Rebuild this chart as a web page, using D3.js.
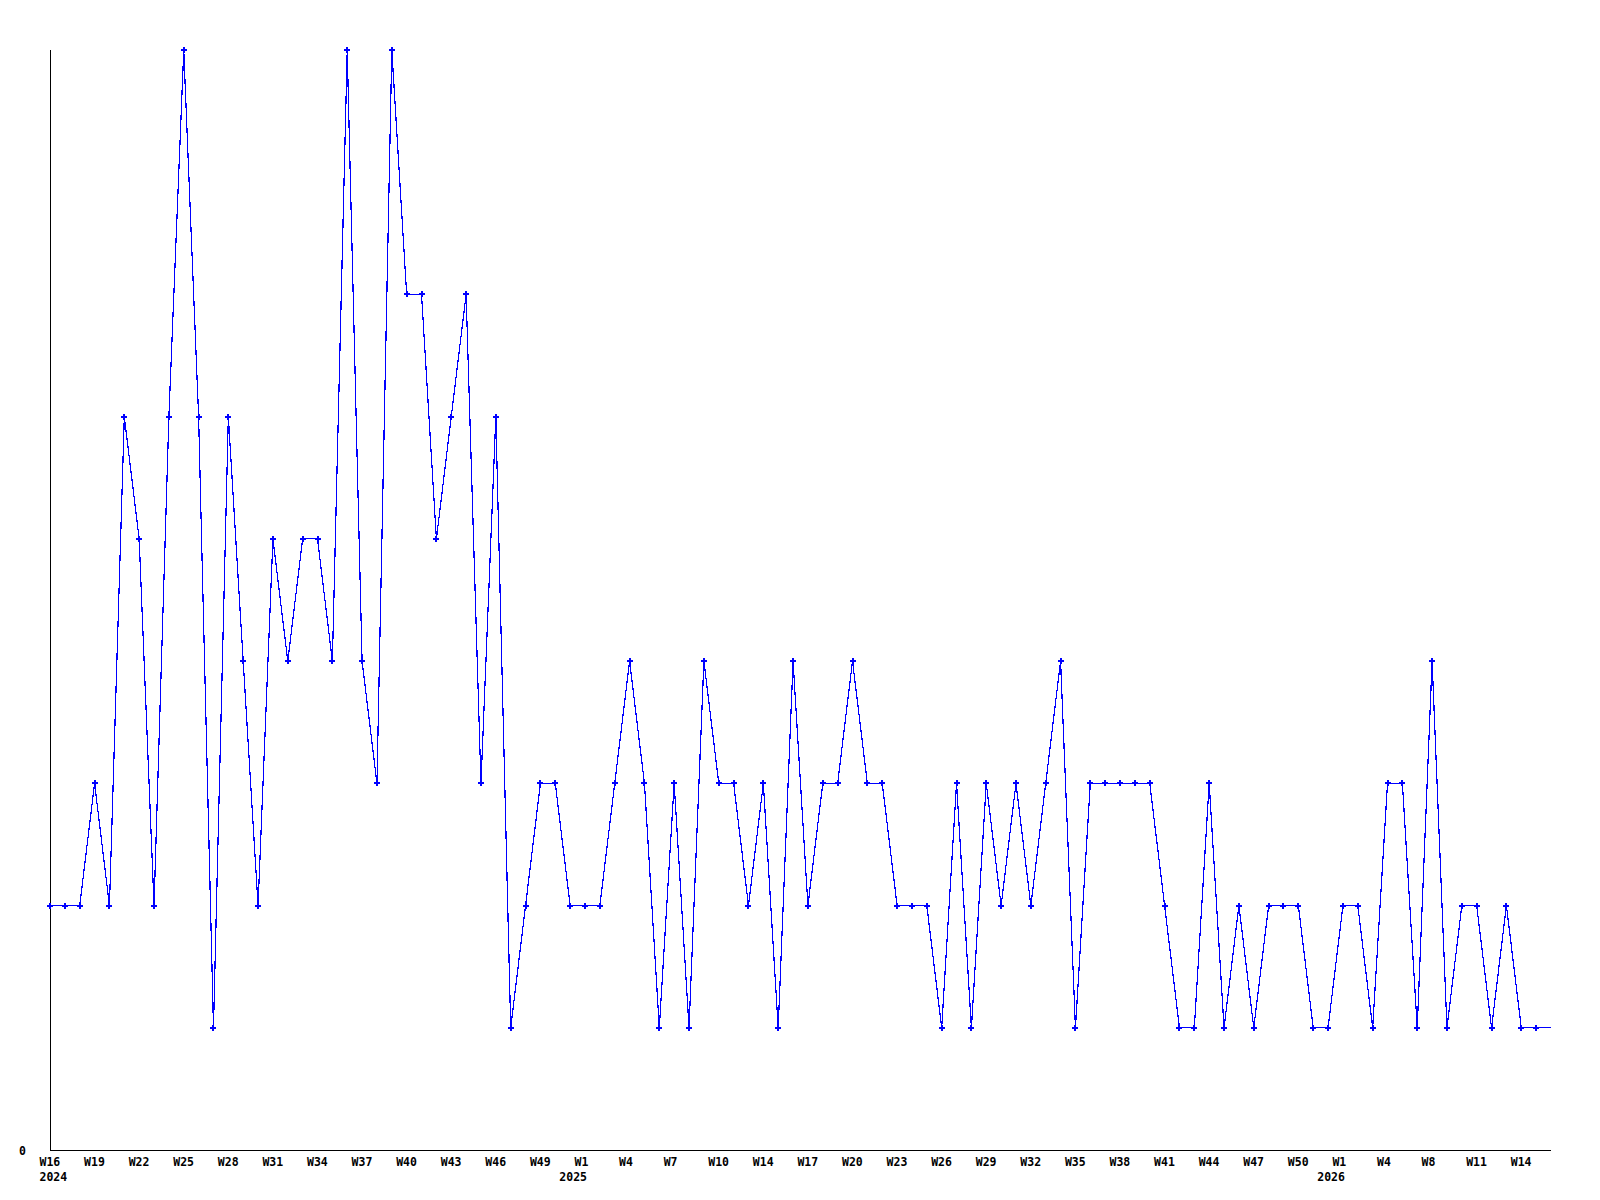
<!DOCTYPE html>
<html>
<head>
<meta charset="utf-8">
<script src="https://cdn.jsdelivr.net/npm/d3@7"></script>
<style>
  html, body { margin: 0; padding: 0; background: #fff; }
  svg { display: block; }
  text { font-family: "DejaVu Sans Mono", "Liberation Mono", monospace; font-weight: bold; font-size: 11.5px; fill: #000; }
</style>
</head>
<body>
<svg id="chart" width="1600" height="1200"></svg>
<script>
// Weekly values, 2024 W16 onward (one per week)
const values = [
  2,2,2,3,2,6,5,2,6,9,
  6,1,6,4,2,5,4,5,5,4,
  9,4,3,9,7,7,5,6,7,3,
  6,1,2,3,3,2,2,2,3,4,
  3,1,3,1,4,3,3,2,3,1,
  4,2,3,3,4,3,3,2,2,2,
  1,3,1,3,2,3,2,3,4,1,
  3,3,3,3,3,2,1,1,3,1,
  2,1,2,2,2,1,1,2,2,1,
  3,3,1,4,1,2,2,1,2,1,
  1
];
// X tick labels (every third point)
const tickIndex = [0,3,6,9,12,15,18,21,24,27,30,33,36,39,42,45,48,51,54,57,60,63,66,69,72,75,78,81,84,87,90,93,96,99];
const tickLabels = ["W16","W19","W22","W25","W28","W31","W34","W37","W40","W43","W46","W49",
                    "W1","W4","W7","W10","W14","W17","W20","W23","W26","W29","W32","W35",
                    "W38","W41","W44","W47","W50","W1","W4","W8","W11","W14"];
const yearIndex = [0, 36, 87];
const yearLabels = ["2024", "2025", "2026"];
const yMax = 9;

(function () {
  const svg = d3.select("#chart");
  const mL = 50, mR = 1551, mT = 50, mB = 1150;

  const x = d3.scaleLinear().domain([0, values.length]).range([mL, mR]);
  const y = d3.scaleLinear().domain([0, yMax]).range([mB, mT]);

  // axes lines
  svg.append("line").attr("x1", mL + 0.5).attr("x2", mL + 0.5)
    .attr("y1", mT).attr("y2", mB + 1)
    .attr("stroke", "#000").attr("stroke-width", 1).attr("shape-rendering", "crispEdges");
  svg.append("line").attr("x1", mL).attr("x2", mR)
    .attr("y1", mB + 0.5).attr("y2", mB + 0.5)
    .attr("stroke", "#000").attr("stroke-width", 1).attr("shape-rendering", "crispEdges");

  // y label "0"
  svg.append("text").attr("x", 22.5).attr("y", y(0) + 5).attr("text-anchor", "middle").text("0");

  // x tick labels
  svg.append("g").selectAll("text").data(tickIndex).join("text")
    .attr("x", d => x(d) - 10.5)
    .attr("y", mB + 16)
    .attr("text-anchor", "start")
    .text((d, i) => tickLabels[i]);

  // year labels
  svg.append("g").selectAll("text").data(yearIndex).join("text")
    .attr("x", (d, i) => i === 0 ? x(d) - 10.5 : x(d) + 2)
    .attr("y", mB + 31)
    .attr("text-anchor", (d, i) => i === 0 ? "start" : "end")
    .text((d, i) => yearLabels[i]);

  // line (last value held to end of axis)
  const lineData = values.map((v, i) => [i, v]).concat([[values.length, values[values.length - 1]]]);
  const line = d3.line().x(d => x(d[0])).y(d => y(d[1]));
  svg.append("path").datum(lineData)
    .attr("d", line)
    .attr("fill", "none")
    .attr("stroke", "#0000ff")
    .attr("stroke-width", 1.2)
    .attr("shape-rendering", "crispEdges");

  // markers
  const sym = d3.symbol().type(d3.symbolCross).size(20);
  svg.append("g").selectAll("path").data(values).join("path")
    .attr("transform", (d, i) => `translate(${x(i)},${y(d)})`)
    .attr("d", sym)
    .attr("fill", "#0000ff")
    .attr("shape-rendering", "crispEdges");
})();
</script>
</body>
</html>
